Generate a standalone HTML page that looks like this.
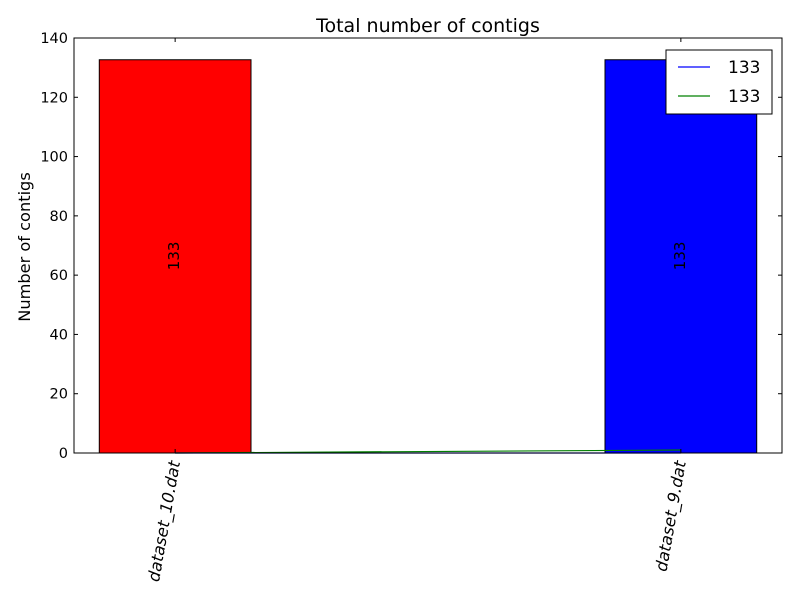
<!DOCTYPE html>
<html><head><meta charset="utf-8"><style>
body{margin:0;background:#fff}
svg{font-family:"DejaVu Sans","Liberation Sans",sans-serif}
</style></head><body>
<svg id="chart" width="800" height="600" viewBox="0 0 800 600">
<rect width="800" height="600" fill="#fff"/>
<text x="428" y="32" font-size="19" text-anchor="middle">Total number of contigs</text>
<text transform="translate(30,247) rotate(-90)" font-size="16.2" text-anchor="middle">Number of contigs</text>
<g id="bars"></g><g id="lines"></g><g id="axes"></g>
</svg>
<script>
const categories=["dataset_10.dat","dataset_9.dat"];
const barValues=[133,133];
const barColors=["#ff0000","#0000ff"];
const blueLine=[0,0];
const greenLine=[0,1];
const yTicks=[0,20,40,60,80,100,120,140];
const legendLabels=["133","133"];
const L=74,R=782,T=38,B=453;
const xs=v=>L+(v+0.2)/1.4*(R-L);
const ys=v=>B-v/140*(B-T);
const NS="http://www.w3.org/2000/svg";
function mk(t,a,p){const e=document.createElementNS(NS,t);for(const k in a)e.setAttribute(k,a[k]);p.appendChild(e);return e;}
const gb=document.getElementById('bars'),gl=document.getElementById('lines'),ga=document.getElementById('axes');
barValues.forEach((v,i)=>{
 const x0=xs(i-0.15),x1=xs(i+0.15);
 const r=mk('rect',{x:x0,y:ys(v)+1,width:x1-x0,height:B-ys(v)-1,fill:barColors[i],stroke:'#000','stroke-width':1},gb);
 
 
 const t=mk('text',{transform:`translate(${xs(i)+4},${ys(v/2)}) rotate(-90)`,'font-size':15,'text-anchor':'middle'},gb);
 t.textContent=v;
 
 
});
[[blueLine,'#0000ff'],[greenLine,'#008000']].forEach(([d,c],k)=>{
 const p=mk('polyline',{points:d.map((v,i)=>xs(i)+','+ys(v)).join(' '),fill:'none',stroke:c,'stroke-width':1.2},gl);
 
 
});
const fr=mk('rect',{x:L,y:T,width:R-L,height:B-T,fill:'none',stroke:'#000','stroke-width':1},ga);


yTicks.forEach(v=>{
 const y=ys(v);
 mk('line',{x1:L,x2:L+4,y1:y,y2:y,stroke:'#000'},ga);
 mk('line',{x1:R,x2:R-4,y1:y,y2:y,stroke:'#000'},ga);
 const t=mk('text',{x:L-6,y:y+5,'font-size':14.5,'text-anchor':'end'},ga);
 t.textContent=v;
 
 
});
categories.forEach((c,i)=>{
 const x=xs(i);
 mk('line',{x1:x,x2:x,y1:B,y2:B-4,stroke:'#000'},ga);
 mk('line',{x1:x,x2:x,y1:T,y2:T+4,stroke:'#000'},ga);
 const t=mk('text',{transform:`translate(${x+5},${B+9}) rotate(-80)`,'font-size':16.3,'font-style':'italic','text-anchor':'end'},ga);
 t.textContent=c;
 
 
});
const lg=mk('g',{},ga);


mk('rect',{x:666,y:50,width:106,height:64,fill:'#fff',stroke:'#000'},lg);
['#0000ff','#008000'].forEach((c,i)=>{
 const y=67+i*29;
 mk('line',{x1:678,x2:710,y1:y,y2:y,stroke:c,'stroke-width':1.2},lg);
 const t=mk('text',{x:728,y:y+6,'font-size':17},lg);
 t.textContent=legendLabels[i];
 
 
});
</script>
</body></html>
